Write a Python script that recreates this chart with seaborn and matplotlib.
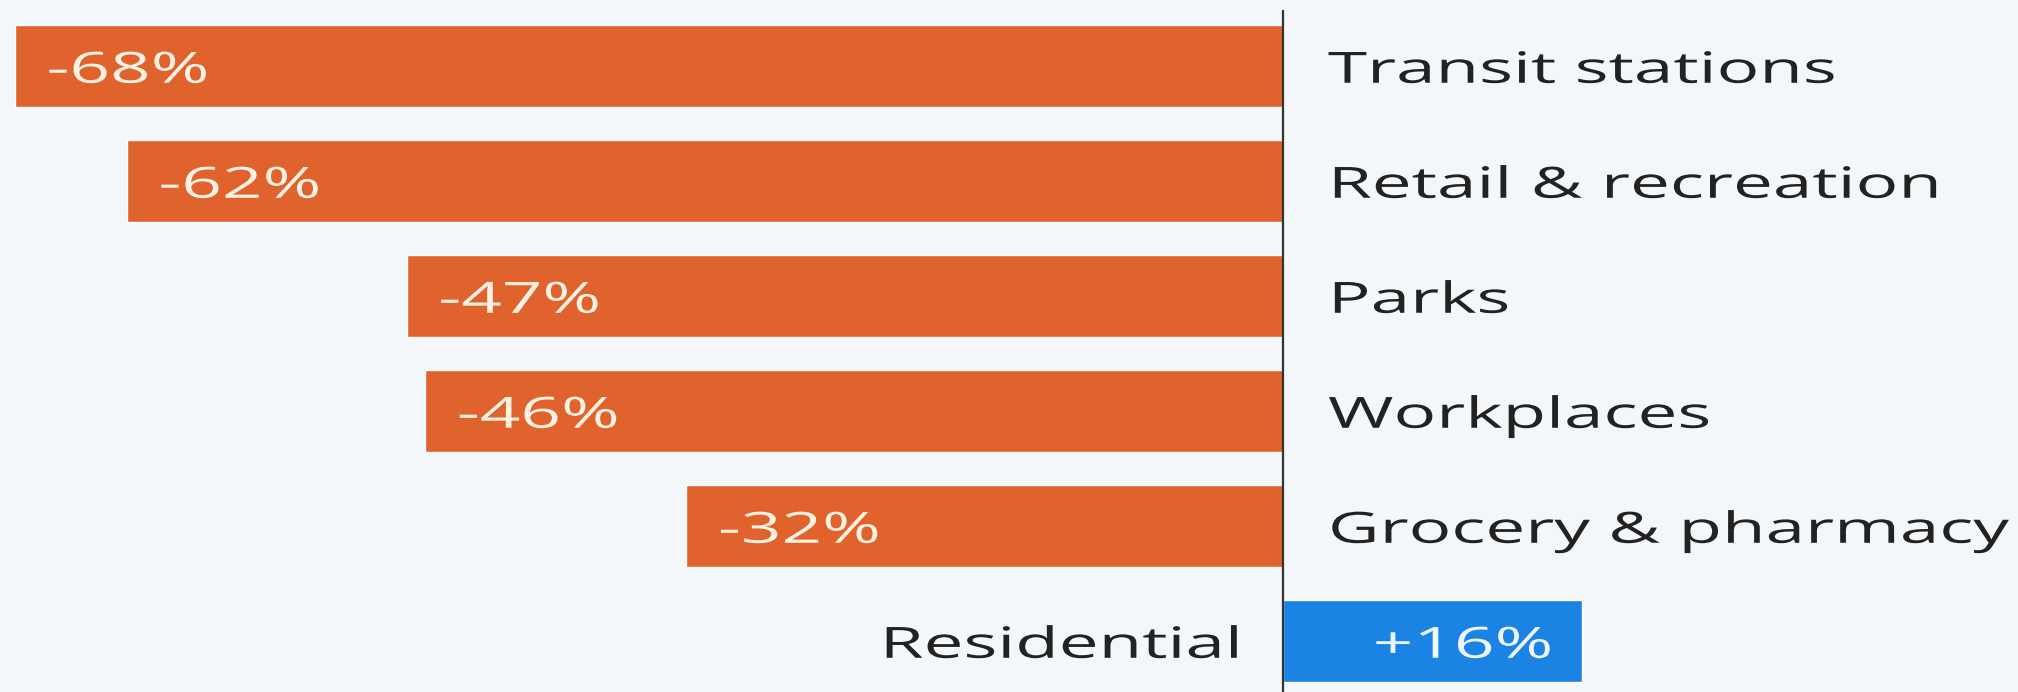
import seaborn as sns
import matplotlib.pyplot as plt
import pandas as pd
from matplotlib.patheffects import AbstractPathEffect
from matplotlib.transforms import Affine2D

# mobility change vs. baseline, per place category
categories = ["Transit stations", "Retail & recreation", "Parks",
              "Workplaces", "Grocery & pharmacy", "Residential"]
changes = [-68, -62, -47, -46, -32, 16]
value_labels = ["-68%", "-62%", "-47%", "-46%", "-32%", "+16%"]

ORANGE = "#e0622c"
BLUE = "#1a83e3"
BG = "#f4f7fa"


class Stretch(AbstractPathEffect):
    """draw text glyphs wider than the font (the source image is stretched)"""

    def __init__(self, sx, anchor="left"):
        super().__init__()
        self.sx = sx
        self.anchor = anchor

    def draw_path(self, renderer, gc, tpath, affine, rgbFace=None):
        x0 = 0
        if self.anchor == "right" and len(tpath.vertices):
            x0 = tpath.vertices[:, 0].max()
        st = Affine2D().translate(-x0, 0).scale(self.sx, 1).translate(x0, 0)
        renderer.draw_path(gc, tpath, st + affine, rgbFace)


df = pd.DataFrame({"category": categories, "change": changes})
df["sign"] = ["neg" if v < 0 else "pos" for v in changes]

sns.set_style("white")
plt.rcParams["font.family"] = ["Open Sans", "DejaVu Sans"]

fig = plt.figure(figsize=(20.18, 6.92), dpi=100, facecolor=BG)
ax = fig.add_axes([0, 0, 1, 1])
ax.set_facecolor(BG)

sns.barplot(data=df, x="change", y="category", hue="sign",
            palette={"neg": ORANGE, "pos": BLUE}, width=0.71,
            dodge=False, legend=False, saturation=1, ax=ax)

ax.set_xlim(-68.8, 39.4)
ax.set_ylim(5.443, -0.574)
ax.axis("off")

# zero line
ax.vlines(0, -0.49, 5.443, color="#333333", lw=1.6, zorder=3)

SX = 1.65
left = [Stretch(SX, "left")]
right = [Stretch(SX, "right")]

for i, (cat, v, lab) in enumerate(zip(categories, changes, value_labels)):
    if v < 0:
        ax.text(v + 1.7, i, lab, ha="left", va="center_baseline",
                fontsize=31, color="#fdf1e4", path_effects=left)
        ax.text(2.4, i, cat, ha="left", va="center_baseline",
                fontsize=31, color="#222222", path_effects=left)
    else:
        ax.text(v - 1.6, i, lab, ha="right", va="center_baseline",
                fontsize=31, color="#eef5fc", path_effects=right)
        ax.text(-2.3, i, cat, ha="right", va="center_baseline",
                fontsize=31, color="#222222", path_effects=right)

plt.savefig("out.png", dpi=100, facecolor=BG)
